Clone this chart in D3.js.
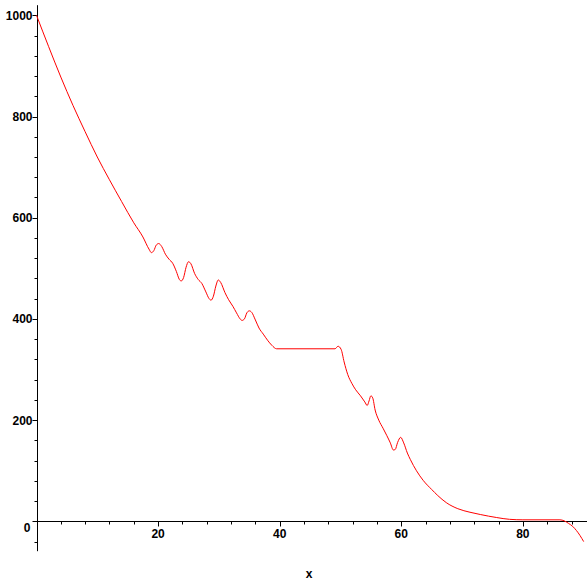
<!DOCTYPE html>
<html>
<head>
<meta charset="utf-8">
<script src="https://cdn.jsdelivr.net/npm/d3@7"></script>
<style>
  body { margin: 0; background: #fff; }
  text { font-family: "Liberation Sans", Arial, sans-serif; font-size: 12px; font-weight: bold; fill: #000; }
</style>
</head>
<body>
<div class="chart"></div>
<script>
// values
const xs = [0, 2, 4, 6, 8, 10, 12, 14, 16, 17.5, 18.5, 18.9, 19.3, 19.7, 20.1, 20.6, 21.2, 21.8, 22.4, 23.0,
  23.5, 23.8, 24.2, 24.6, 25.0, 25.4, 26.0, 26.6, 27.2, 27.8, 28.4, 28.7, 29.1, 29.5, 29.9, 30.3, 31.0,
  31.6, 32.3, 32.9, 33.5, 33.8, 34.2, 34.6, 35.0, 35.4, 36.0, 36.6, 37.3, 38.0, 38.7, 39.5, 49.1, 49.6,
  50.1, 50.6, 51.2, 51.9, 52.5, 53.3, 54.0, 54.4, 54.7, 55.0, 55.3, 55.7, 56.3, 57.0, 57.6, 58.2, 58.7,
  59.0, 59.4, 59.9, 60.4, 61.0, 61.5, 62.5, 63.6, 65.0, 66.0, 67.4, 69.3, 71.3, 73.0, 75.7, 77.8, 80.0,
  86.1, 86.8, 87.5, 88.2, 88.8, 89.4, 90.0];
const ys = [1000, 938, 878, 822, 770, 720, 675, 632, 590, 562, 538, 531, 535, 546, 549, 543, 528, 518, 510, 494,
  478, 475, 482, 502, 513, 509, 490, 478, 470, 455, 440, 437, 445, 465, 477, 472, 452,
  438, 425, 412, 400, 397, 400, 412, 416, 413, 398, 382, 370, 358, 348, 341, 341, 346,
  340, 315, 290, 272, 260, 248, 236, 229, 238, 248, 244, 220, 200, 184, 170, 155, 141,
  142, 156, 166, 155, 135, 122, 100, 81, 63, 51, 37, 25, 18, 13.5, 7.5, 4, 3,
  3, 1, -4, -10, -18, -28, -40];
const xTicks = [20, 40, 60, 80];
const yTicks = [0, 200, 400, 600, 800, 1000];
const xLabel = "x";

const width = 587, height = 587;

const svg = d3.select(".chart").append("svg")
  .attr("width", width)
  .attr("height", height);

const x = d3.scaleLinear().domain([0, 90.5]).range([36.5, 586.7]);
const y = d3.scaleLinear().domain([-59, 1020]).range([551.2, 5.2]);

// x axis along y = 0
const xAxis = svg.append("g").attr("transform", `translate(0, ${Math.round(y(0)) + 0.5})`);
xAxis.append("line").attr("x1", x(0)).attr("x2", width).attr("stroke", "#000");
xAxis.selectAll(".minor").data(d3.range(4, 90, 4).filter(d => d % 20 !== 0)).enter()
  .append("line")
  .attr("x1", d => Math.round(x(d)) + 0.5).attr("x2", d => Math.round(x(d)) + 0.5)
  .attr("y1", 0).attr("y2", 3).attr("stroke", "#000");
xAxis.selectAll(".major").data(xTicks).enter()
  .append("line")
  .attr("x1", d => Math.round(x(d)) + 0.5).attr("x2", d => Math.round(x(d)) + 0.5)
  .attr("y1", 0).attr("y2", 5).attr("stroke", "#000");
xAxis.selectAll("text").data(xTicks).enter()
  .append("text")
  .attr("x", d => x(d)).attr("y", 16)
  .attr("text-anchor", "middle")
  .text(d => d);

// y axis along x = 0
const yAxis = svg.append("g").attr("transform", `translate(${Math.round(x(0)) + 0.5}, 0)`);
yAxis.append("line").attr("y1", y(1020)).attr("y2", y(-59)).attr("stroke", "#000");
yAxis.selectAll(".minor").data(d3.range(-40, 1020, 40).filter(d => d % 200 !== 0)).enter()
  .append("line")
  .attr("y1", d => Math.round(y(d)) + 0.5).attr("y2", d => Math.round(y(d)) + 0.5)
  .attr("x1", 0).attr("x2", -3).attr("stroke", "#000");
yAxis.selectAll(".major").data(yTicks).enter()
  .append("line")
  .attr("y1", d => Math.round(y(d)) + 0.5).attr("y2", d => Math.round(y(d)) + 0.5)
  .attr("x1", 0).attr("x2", -5).attr("stroke", "#000");
yAxis.selectAll("text").data(yTicks).enter()
  .append("text")
  .attr("x", d => d === 0 ? -7 : -5)
  .attr("y", d => y(d) + (d === 0 ? 11 : 4.5))
  .attr("text-anchor", "end")
  .text(d => d);

// axis title
svg.append("text")
  .attr("x", 309).attr("y", 578)
  .attr("text-anchor", "middle")
  .text(xLabel);

// the curve
const line = d3.line()
  .x(d => x(d[0]))
  .y(d => y(d[1]))
  .curve(d3.curveMonotoneX);

svg.append("path")
  .datum(xs.map((d, i) => [d, ys[i]]))
  .attr("fill", "none")
  .attr("stroke", "#ff0000")
  .attr("stroke-width", 1)
  .attr("d", line);
</script>
</body>
</html>
